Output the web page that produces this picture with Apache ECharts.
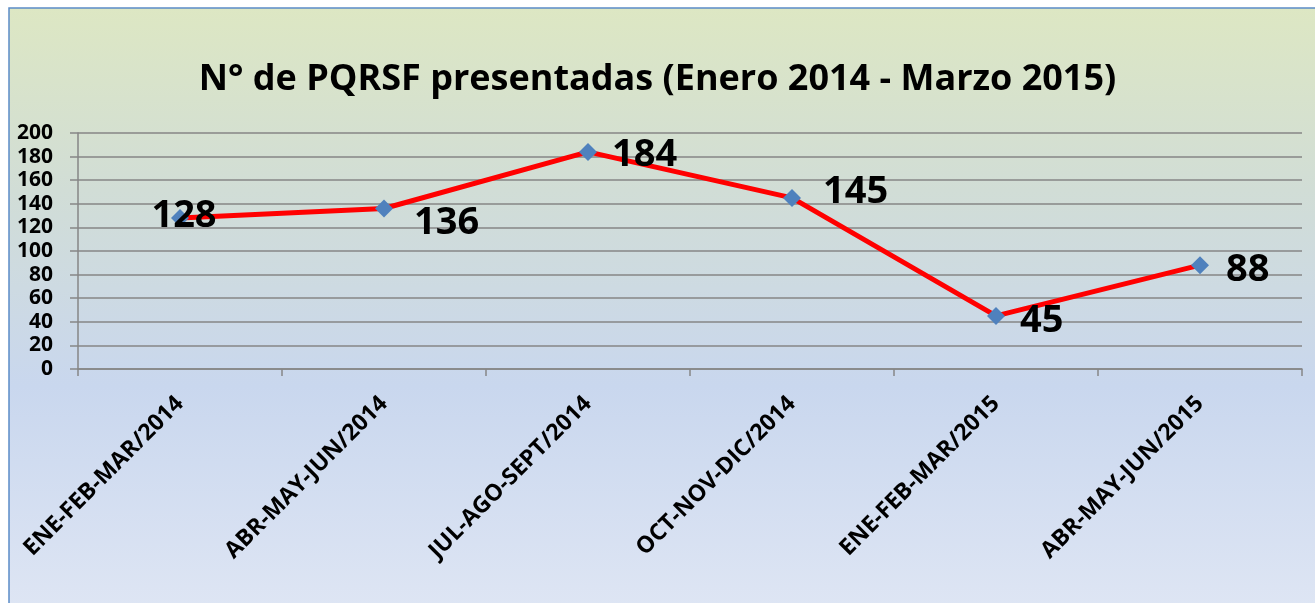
<!DOCTYPE html>
<html>
<head>
<meta charset="utf-8">
<script src="https://cdn.jsdelivr.net/npm/echarts@6/dist/echarts.min.js"></script>
<style>
  html, body { margin: 0; padding: 0; background: #ffffff; }
  #chart { width: 1315px; height: 603px; }
</style>
</head>
<body>
<div id="chart"></div>
<script>
const titleText = 'N° de PQRSF presentadas (Enero 2014 - Marzo 2015)';
const categories = [
  'ENE-FEB-MAR/2014',
  'ABR-MAY-JUN/2014',
  'JUL-AGO-SEPT/2014',
  'OCT-NOV-DIC/2014',
  'ENE-FEB-MAR/2015',
  'ABR-MAY-JUN/2015'
];
const pqrsfValues = [128, 136, 184, 145, 45, 88];

// where each value label sits next to its point
const labelPlacement = [
  { position: 'inside', offset: [4, -2] },
  { position: 'right', offset: [16, 15] },
  { position: 'right', offset: [10, 3] },
  { position: 'right', offset: [17, -6] },
  { position: 'right', offset: [10, 5] },
  { position: 'right', offset: [12, 5] }
];

const FONT = '"Open Sans", "Noto Sans", sans-serif';
const chart = echarts.init(document.getElementById('chart'), null, { renderer: 'canvas' });

chart.setOption({
  backgroundColor: '#ffffff',
  animation: false,
  graphic: [
    {
      type: 'rect',
      z: -10,
      silent: true,
      shape: { x: 9, y: 8, width: 1320, height: 610 },
      style: {
        fill: {
          type: 'linear', x: 0, y: 0, x2: 0, y2: 1,
          colorStops: [
            { offset: 0, color: '#dde7c3' },
            { offset: 0.3, color: '#d1ddd6' },
            { offset: 0.62, color: '#c9d7ee' },
            { offset: 1, color: '#dfe6f4' }
          ]
        },
        stroke: '#5b8cc8',
        lineWidth: 1.5
      }
    }
  ],
  title: {
    text: titleText,
    left: 'center',
    top: 57,
    textStyle: {
      fontFamily: FONT,
      fontWeight: 'bold',
      fontSize: 36,
      color: '#000000'
    }
  },
  grid: { left: 78, right: 13, top: 133, bottom: 234 },
  xAxis: {
    type: 'category',
    data: categories,
    boundaryGap: true,
    axisLine: { lineStyle: { color: '#868686', width: 1.5 } },
    axisTick: { show: true, length: 7, lineStyle: { color: '#868686', width: 1.5 } },
    axisLabel: {
      rotate: 45,
      margin: 31,
      interval: 0,
      color: '#000000',
      fontFamily: FONT,
      fontWeight: 'bold',
      fontSize: 23
    }
  },
  yAxis: {
    type: 'value',
    min: 0,
    max: 200,
    interval: 20,
    axisLine: { show: true, lineStyle: { color: '#868686', width: 1.5 } },
    axisTick: { show: true, length: 8, lineStyle: { color: '#868686', width: 1.5 } },
    splitLine: { lineStyle: { color: '#868686', width: 1.5 } },
    axisLabel: {
      margin: 25,
      color: '#000000',
      fontFamily: FONT,
      fontWeight: 'bold',
      fontSize: 21
    }
  },
  series: [
    {
      name: 'PQRSF',
      type: 'line',
      data: pqrsfValues.map((v, i) => ({
        value: v,
        label: labelPlacement[i]
      })),
      symbol: 'diamond',
      symbolSize: 18,
      itemStyle: { color: '#4f81bd' },
      lineStyle: { color: '#ff0000', width: 5 },
      z: 3,
      label: {
        show: true,
        color: '#000000',
        fontFamily: FONT,
        fontWeight: 'bold',
        fontSize: 38
      }
    }
  ]
});
</script>
</body>
</html>
